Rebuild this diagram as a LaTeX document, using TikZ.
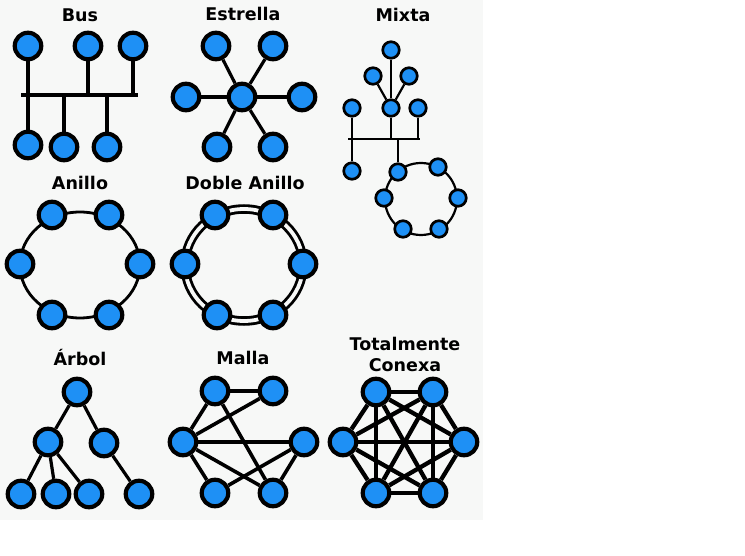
\documentclass[tikz,border=0pt]{standalone}
\usepackage{fontspec}
\setmainfont{DejaVu Sans}
\definecolor{hostblue}{RGB}{30,144,245}
\definecolor{panelgray}{RGB}{247,248,247}

\begin{document}
\begin{tikzpicture}[x=1pt,y=-1pt,
  host/.style={circle,draw=black,line width=4.2pt,fill=hostblue,minimum size=26.5pt,inner sep=0pt},
  smallhost/.style={host,line width=2.7pt,minimum size=16.5pt},
  title/.style={font=\fontsize{17.5}{21}\selectfont\bfseries,align=center},
  link/.style={line width=3.2pt},
  thinlink/.style={line width=2.2pt}]
  \useasboundingbox (0,0) rectangle (745,556);
  \fill[panelgray] (0,0) rectangle (483,520);

  % Bus
  \node[title] (tbus) at (80,15) {Bus};
  \node[host] (b1) at (28,46) {};
  \node[host] (b2) at (88,46) {};
  \node[host] (b3) at (133,46) {};
  \node[host] (b4) at (28,145) {};
  \node[host] (b5) at (64,147) {};
  \node[host] (b6) at (107,147) {};
  \coordinate (busl) at (21,95);
  \coordinate (busr) at (138,95);
  \draw[link] (busl) -- (busr);
  \foreach \n in {b1,b2,b3,b4,b5,b6}
    \draw[link] (\n) -- (\n |- busl);

  % Estrella
  \node[title] (test) at (243,14) {Estrella};
  \node[host] (e0) at (242,97) {};
  \node[host] (e1) at (216,46) {};
  \node[host] (e2) at (273,46) {};
  \node[host] (e3) at (186,97) {};
  \node[host] (e4) at (302,97) {};
  \node[host] (e5) at (217,147) {};
  \node[host] (e6) at (273,147) {};
  \foreach \n in {e1,e2,e3,e4,e5,e6}
    \draw[link] (e0) -- (\n);

  % Mixta
  \node[title] (tmix) at (403,15) {Mixta};
  \coordinate (mc) at (421,199);
  \draw[thinlink] (mc) circle (36);
  \node[smallhost] (m1) at (391,50) {};
  \node[smallhost] (m2) at (373,76) {};
  \node[smallhost] (m3) at (409,76) {};
  \node[smallhost] (m4) at (352,108) {};
  \node[smallhost] (m5) at (391,108) {};
  \node[smallhost] (m6) at (418,108) {};
  \node[smallhost] (m7) at (352,171) {};
  \node[smallhost] (r1) at (398,172) {};
  \node[smallhost] (r2) at (438,167) {};
  \node[smallhost] (r3) at (458,198) {};
  \node[smallhost] (r4) at (439,229) {};
  \node[smallhost] (r5) at (403,229) {};
  \node[smallhost] (r6) at (384,198) {};
  \coordinate (mbusl) at (348,139);
  \coordinate (mbusr) at (420,139);
  \draw[thinlink] (mbusl) -- (mbusr);
  \draw[thinlink] (m5) -- (m1);
  \draw[thinlink] (m5) -- (m2);
  \draw[thinlink] (m5) -- (m3);
  \foreach \n in {m4,m5,m6,m7,r1}
    \draw[thinlink] (\n) -- (\n |- mbusl);

  % Anillo
  \node[title] (tani) at (80,183) {Anillo};
  \coordinate (ac) at (80,265);
  \draw[line width=2.8pt] (ac) ellipse [x radius=60, y radius=53];
  \node[host] (a1) at (52,215) {};
  \node[host] (a2) at (109,215) {};
  \node[host] (a3) at (20,264) {};
  \node[host] (a4) at (140,264) {};
  \node[host] (a5) at (52,315) {};
  \node[host] (a6) at (109,315) {};

  % Doble Anillo
  \node[title] (tdob) at (245,183) {Doble Anillo};
  \coordinate (dc) at (244,265);
  \draw[line width=9.5pt] (dc) ellipse [x radius=59, y radius=56];
  \draw[line width=3.8pt,panelgray] (dc) ellipse [x radius=59, y radius=56];
  \node[host] (d1) at (215,215) {};
  \node[host] (d2) at (273,215) {};
  \node[host] (d3) at (185,264) {};
  \node[host] (d4) at (303,264) {};
  \node[host] (d5) at (217,315) {};
  \node[host] (d6) at (273,315) {};

  % Arbol
  \node[title] (tarb) at (80,358) {Árbol};
  \node[host] (t0) at (77,392) {};
  \node[host] (t1) at (48,442) {};
  \node[host] (t2) at (104,443) {};
  \node[host] (t3) at (21,494) {};
  \node[host] (t4) at (56,494) {};
  \node[host] (t5) at (89,494) {};
  \node[host] (t6) at (139,494) {};
  \draw[link] (t0) -- (t1);
  \draw[link] (t0) -- (t2);
  \draw[link] (t1) -- (t3);
  \draw[link] (t1) -- (t4);
  \draw[link] (t1) -- (t5);
  \draw[link] (t2) -- (t6);

  % Malla
  \node[title] (tmal) at (243,358) {Malla};
  \node[host] (g1) at (215,391) {};
  \node[host] (g2) at (273,391) {};
  \node[host] (g3) at (183,442) {};
  \node[host] (g4) at (304,442) {};
  \node[host] (g5) at (215,493) {};
  \node[host] (g6) at (273,493) {};
  \foreach \a/\b in {g1/g2,g1/g3,g1/g6,g2/g3,g3/g4,g3/g5,g3/g6,g4/g5,g4/g6}
    \draw[link,line width=3.6pt] (\a) -- (\b);

  % Totalmente Conexa
  \node[title] (ttot) at (405,354) {Totalmente\\Conexa};
  \node[host] (c1) at (376,392) {};
  \node[host] (c2) at (433,392) {};
  \node[host] (c3) at (464,442) {};
  \node[host] (c4) at (433,493) {};
  \node[host] (c5) at (376,493) {};
  \node[host] (c6) at (343,442) {};
  \foreach \a/\b in {c1/c2,c1/c3,c1/c4,c1/c5,c1/c6,c2/c3,c2/c4,c2/c5,c2/c6,c3/c4,c3/c5,c3/c6,c4/c5,c4/c6,c5/c6}
    \draw[link,line width=4.3pt] (\a) -- (\b);
\end{tikzpicture}
\end{document}
